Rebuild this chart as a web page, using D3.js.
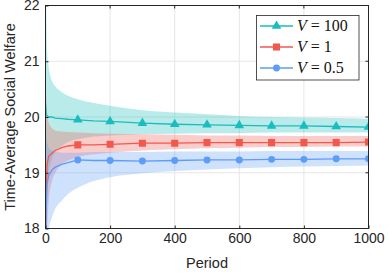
<!DOCTYPE html>
<html>
<head>
<meta charset="UTF-8">
<script src="https://cdnjs.cloudflare.com/ajax/libs/d3/7.8.5/d3.min.js"></script>
<style>
  body { margin: 0; background: #fff; }
  svg { display: block; font-family: "Liberation Sans", Arial, sans-serif; }
</style>
</head>
<body>
<div id="chart"></div>
<script>
// sample periods where values were read
const periods = [0, 2, 5, 10, 20, 30, 50, 70, 100, 150, 200, 300, 400, 500, 600, 700, 800, 900, 1000];

// V = 100
const meanV100 = [20.25, 20.05, 20.02, 20.0, 20.0, 19.98, 19.97, 19.96, 19.95, 19.93, 19.92, 19.89, 19.87, 19.86, 19.85, 19.84, 19.84, 19.83, 19.82];
const lowV100  = [17.5, 18.3, 18.7, 19.0, 19.25, 19.38, 19.48, 19.55, 19.6, 19.65, 19.67, 19.69, 19.7, 19.71, 19.71, 19.72, 19.72, 19.72, 19.72];
const highV100 = [23.0, 22.0, 21.2, 20.9, 20.65, 20.55, 20.45, 20.38, 20.32, 20.25, 20.2, 20.12, 20.08, 20.05, 20.02, 20.0, 19.99, 19.98, 19.97];

// V = 1
const meanV1 = [17.5, 18.6, 19.15, 19.3, 19.35, 19.4, 19.45, 19.48, 19.5, 19.5, 19.51, 19.53, 19.53, 19.54, 19.54, 19.54, 19.54, 19.54, 19.55];
const lowV1  = [16.5, 17.5, 18.0, 18.5, 18.85, 19.0, 19.15, 19.22, 19.28, 19.33, 19.36, 19.4, 19.42, 19.44, 19.45, 19.46, 19.46, 19.47, 19.47];
const highV1 = [20.8, 20.4, 20.1, 19.9, 19.8, 19.76, 19.74, 19.73, 19.72, 19.71, 19.7, 19.69, 19.68, 19.67, 19.67, 19.66, 19.66, 19.66, 19.66];

// V = 0.5
const meanV05 = [17.0, 18.3, 18.8, 18.95, 19.05, 19.1, 19.15, 19.18, 19.23, 19.22, 19.22, 19.21, 19.22, 19.23, 19.23, 19.24, 19.24, 19.25, 19.25];
const lowV05  = [16.0, 16.8, 17.5, 17.95, 18.2, 18.35, 18.5, 18.62, 18.73, 18.85, 18.92, 18.99, 19.03, 19.06, 19.08, 19.1, 19.11, 19.12, 19.13];
const highV05 = [20.2, 19.8, 19.55, 19.45, 19.4, 19.38, 19.36, 19.36, 19.36, 19.37, 19.37, 19.37, 19.38, 19.38, 19.38, 19.39, 19.39, 19.39, 19.39];

const markerPeriods = [100, 200, 300, 400, 500, 600, 700, 800, 900, 1000];
const xTicks = [0, 200, 400, 600, 800, 1000];
const yTicks = [18, 19, 20, 21, 22];

const series = [
  { label: "100", color: "#19bdbd", mean: meanV100, low: lowV100, high: highV100, marker: d3.symbolTriangle, size: 40 },
  { label: "1", color: "#f2594e", mean: meanV1, low: lowV1, high: highV1, marker: d3.symbolSquare, size: 50 },
  { label: "0.5", color: "#5d9cf7", mean: meanV05, low: lowV05, high: highV05, marker: d3.symbolCircle, size: 38 }
];

const W = 390, H = 274;
const m = { left: 45.5, right: 368.5, top: 5.5, bottom: 228.5 };

const svg = d3.select("#chart").append("svg").attr("width", W).attr("height", H);

const x = d3.scaleLinear().domain([0, 1000]).range([m.left, m.right]);
const y = d3.scaleLinear().domain([18, 22]).range([m.bottom, m.top]);

svg.append("defs").append("clipPath").attr("id", "clip")
  .append("rect").attr("x", m.left).attr("y", m.top)
  .attr("width", m.right - m.left).attr("height", m.bottom - m.top);

// grid
svg.append("g").selectAll("line").data(xTicks).join("line")
  .attr("x1", d => x(d)).attr("x2", d => x(d))
  .attr("y1", m.top).attr("y2", m.bottom)
  .attr("stroke", "#e6e6e6").attr("stroke-width", 1);
svg.append("g").selectAll("line").data(yTicks).join("line")
  .attr("y1", d => y(d)).attr("y2", d => y(d))
  .attr("x1", m.left).attr("x2", m.right)
  .attr("stroke", "#e6e6e6").attr("stroke-width", 1);

const plot = svg.append("g").attr("clip-path", "url(#clip)");

// bands
series.forEach(s => {
  const area = d3.area()
    .x((d, i) => x(periods[i]))
    .y0((d, i) => y(s.low[i]))
    .y1((d, i) => y(s.high[i]))
    .curve(d3.curveMonotoneX);
  plot.append("path").datum(periods).attr("d", area)
    .attr("fill", s.color).attr("fill-opacity", 0.3);
});

// mean lines + markers
series.forEach(s => {
  const line = d3.line()
    .x((d, i) => x(periods[i]))
    .y((d, i) => y(s.mean[i]));
  plot.append("path").datum(periods).attr("d", line)
    .attr("fill", "none").attr("stroke", s.color).attr("stroke-width", 1.3);
  const pts = markerPeriods.map(p => ({ p, v: s.mean[periods.indexOf(p)] }));
  plot.append("g").selectAll("path").data(pts).join("path")
    .attr("transform", d => `translate(${x(d.p)},${y(d.v)})`)
    .attr("d", d3.symbol().type(s.marker).size(s.size))
    .attr("fill", s.color);
});

// frame
svg.append("rect").attr("x", m.left).attr("y", m.top)
  .attr("width", m.right - m.left).attr("height", m.bottom - m.top)
  .attr("fill", "none").attr("stroke", "#262626").attr("stroke-width", 1);

// axes
const fmt = d3.format("d");
const xAxis = d3.axisBottom(x).tickValues(xTicks).tickFormat(fmt).tickSizeInner(-3).tickSizeOuter(0).tickPadding(5);
const yAxis = d3.axisLeft(y).tickValues(yTicks).tickFormat(fmt).tickSizeInner(-3).tickSizeOuter(0).tickPadding(6);
const gx = svg.append("g").attr("transform", `translate(0,${m.bottom})`).call(xAxis);
const gy = svg.append("g").attr("transform", `translate(${m.left},0)`).call(yAxis);
[gx, gy].forEach(g => {
  g.select(".domain").remove();
  g.selectAll(".tick line").attr("stroke", "#262626");
  g.selectAll("text").attr("font-size", 14).attr("fill", "#262626")
    .attr("font-family", "'Liberation Sans', Arial, sans-serif");
});
// ticks on top/right
svg.append("g").selectAll("line").data(xTicks).join("line")
  .attr("x1", d => x(d)).attr("x2", d => x(d)).attr("y1", m.top).attr("y2", m.top + 3)
  .attr("stroke", "#262626");
svg.append("g").selectAll("line").data(yTicks).join("line")
  .attr("y1", d => y(d)).attr("y2", d => y(d)).attr("x1", m.right).attr("x2", m.right - 3)
  .attr("stroke", "#262626");

svg.append("text").attr("x", (m.left + m.right) / 2).attr("y", 268)
  .attr("text-anchor", "middle").attr("font-size", 14.5).attr("fill", "#262626")
  .text("Period");
svg.append("text")
  .attr("transform", `translate(15,${(m.top + m.bottom) / 2}) rotate(-90)`)
  .attr("text-anchor", "middle").attr("font-size", 14.5).attr("fill", "#262626")
  .text("Time-Average Social Welfare");

// legend
const lg = svg.append("g");
lg.append("rect").attr("x", 256.5).attr("y", 15.5).attr("width", 102.5).attr("height", 64.5)
  .attr("fill", "#fff").attr("stroke", "#262626").attr("stroke-width", 0.8);
series.forEach((s, i) => {
  const yy = 26 + i * 21;
  lg.append("line").attr("x1", 260).attr("x2", 293).attr("y1", yy).attr("y2", yy)
    .attr("stroke", s.color).attr("stroke-width", 1.3);
  lg.append("path").attr("transform", `translate(276.5,${yy})`)
    .attr("d", d3.symbol().type(s.marker).size(s.size)).attr("fill", s.color);
  const t = lg.append("text").attr("x", 297).attr("y", yy + 5)
    .attr("font-family", "'Liberation Serif', 'DejaVu Serif', serif")
    .attr("font-size", 16).attr("fill", "#111");
  t.append("tspan").attr("font-style", "italic").text("V");
  t.append("tspan").text(" = " + s.label);
});
</script>
</body>
</html>
